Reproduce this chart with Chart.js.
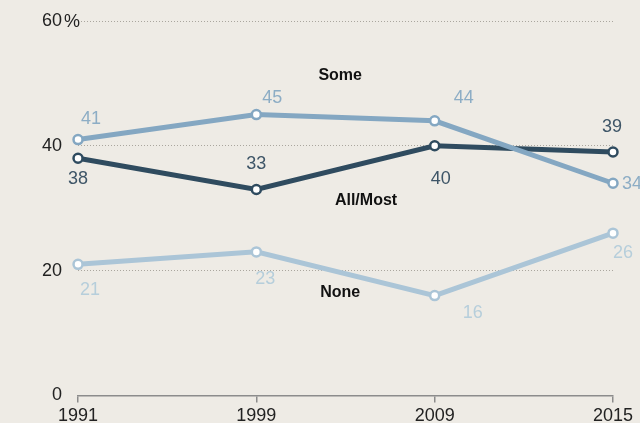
<!DOCTYPE html>
<html>
<head>
<meta charset="utf-8">
<script src="https://cdn.jsdelivr.net/npm/chart.js@4/dist/chart.umd.min.js"></script>
<style>
  html, body { margin:0; padding:0; background:#eeebe5; }
  #wrap { width:640px; height:423px; position:relative; }
</style>
</head>
<body>
<div id="wrap"><canvas id="chart"></canvas></div>
<script>
// ==== Data ====
const years = ['1991', '1999', '2009', '2015'];
const someValues = [41, 45, 44, 34];
const allMostValues = [38, 33, 40, 39];
const noneValues = [21, 23, 16, 26];
const yTicks = [0, 20, 40, 60];

// ==== Styles ====
const FONT = '"Liberation Sans", Arial, sans-serif';
const series = [
  { name: 'Some', data: someValues, color: '#84a7c2', text: '#8dadc5',
    // label offsets (dx, dy, align) per point
    offsets: [[13,-21,'center'],[16,-17,'center'],[29,-23,'center'],[9,1,'left']],
    nameAt: [1.47, 51.2] },
  { name: 'All/Most', data: allMostValues, color: '#2f4b5f', text: '#3e5567',
    offsets: [[0,21,'center'],[0,-25,'center'],[6,33,'center'],[-1,-25,'center']],
    nameAt: [1.615, 31.2] },
  { name: 'None', data: noneValues, color: '#abc5d7', text: '#b6cedb',
    offsets: [[12,26,'center'],[9,27,'center'],[38,17,'center'],[10,20,'center']],
    nameAt: [1.47, 16.4] }
];

// ==== labels plugin ====
const labelsPlugin = {
  id: 'labels',
  afterDatasetsDraw(chart){
    const c = chart.ctx;
    const xs = chart.scales.x, ys = chart.scales.y;
    c.save();
    c.textBaseline = 'middle';
    // value labels
    series.forEach(s => {
      c.fillStyle = s.text;
      c.font = '18px ' + FONT;
      s.data.forEach((v, i) => {
        const [dx, dy, al] = s.offsets[i];
        c.textAlign = al;
        c.fillText(String(v), xs.getPixelForValue(i) + dx, ys.getPixelForValue(v) + dy);
      });
    });
    // series names
    c.fillStyle = '#111';
    c.font = 'bold 16px ' + FONT;
    c.textAlign = 'center';
    series.forEach(s => {
      c.fillText(s.name, xs.getPixelForValue(s.nameAt[0]), ys.getPixelForValue(s.nameAt[1]));
    });
    // % after the top tick
    c.fillStyle = '#222';
    c.font = '18px ' + FONT;
    c.textAlign = 'left';
    c.fillText('%', chart.chartArea.left - 14, ys.getPixelForValue(60) + 1);
    c.restore();
  }
};

// ==== Chart ====
const ctx = document.getElementById('chart').getContext('2d');
new Chart(ctx, {
  type: 'line',
  data: {
    labels: years,
    datasets: series.map(s => ({
      label: s.name,
      data: s.data,
      borderColor: s.color,
      borderWidth: 5,
      pointRadius: 4.5,
      pointBorderWidth: 2.5,
      pointBackgroundColor: '#ffffff',
      pointBorderColor: s.color,
      tension: 0,
      fill: false
    }))
  },
  options: {
    responsive: true,
    maintainAspectRatio: false,
    animation: false,
    layout: { padding: { left: 42, right: 27, top: 21, bottom: -7 } },
    plugins: { legend: { display: false }, tooltip: { enabled: false } },
    scales: {
      x: {
        offset: false,
        border: { display: true, color: '#8c8c8c', width: 1.5 },
        grid: { display: true, drawOnChartArea: false, drawTicks: true, tickLength: 7, color: '#8c8c8c', lineWidth: 1.5 },
        ticks: { color: '#222', font: { family: FONT, size: 18 }, padding: 3, maxRotation: 0 }
      },
      y: {
        min: 0, max: 60,
        afterBuildTicks: axis => { axis.ticks = yTicks.map(v => ({ value: v })); },
        grid: {
          drawTicks: true,
          tickLength: 16,
          tickColor: 'rgba(0,0,0,0)',
          color: c => c.tick && c.tick.value === 0 ? 'rgba(0,0,0,0)' : '#aaa69e',
          lineWidth: 1
        },
        border: { display: false, dash: [1, 2] },
        ticks: { color: '#222', font: { family: FONT, size: 18 }, padding: 0 }
      }
    }
  },
  plugins: [labelsPlugin]
});
</script>
</body>
</html>
